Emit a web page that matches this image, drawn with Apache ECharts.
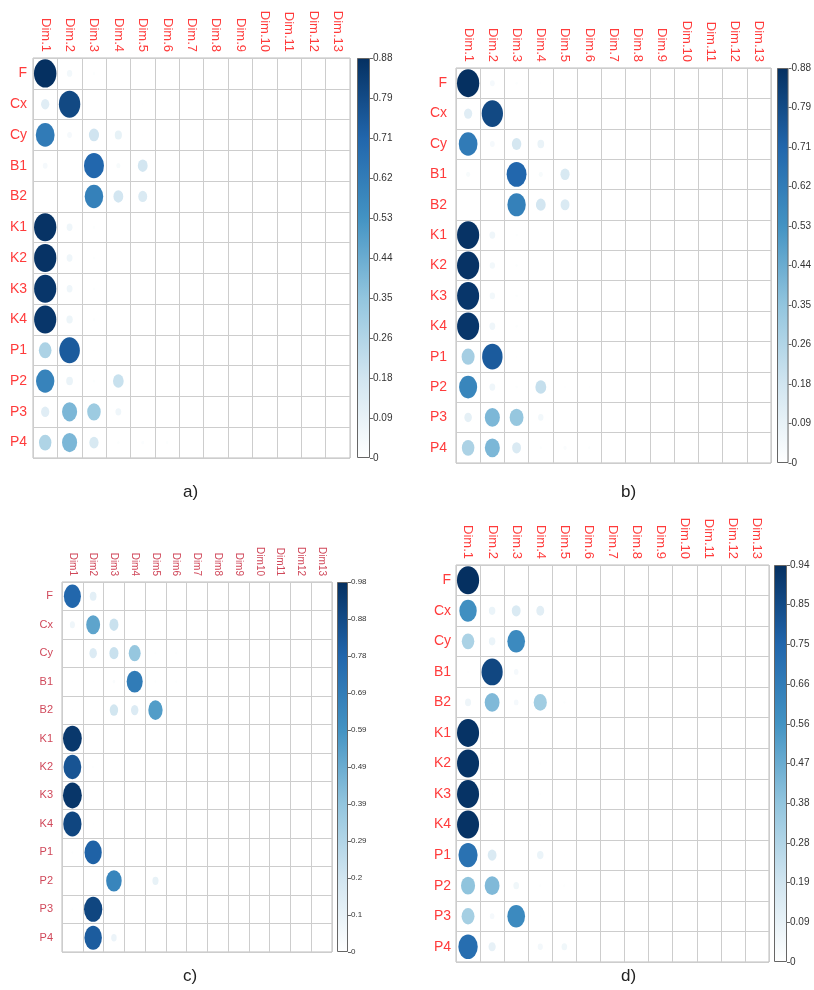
<!DOCTYPE html>
<html><head><meta charset="utf-8">
<style>html,body{margin:0;padding:0;background:#fff}#c{width:814px;height:990px}</style>
<script src="https://cdn.jsdelivr.net/npm/echarts@6.0.0/dist/echarts.min.js"></script>
</head><body><div id="c"></div>
<script>
const rowLabels = ['F','Cx','Cy','B1','B2','K1','K2','K3','K4','P1','P2','P3','P4'];
const dimLabels = ['Dim.1','Dim.2','Dim.3','Dim.4','Dim.5','Dim.6','Dim.7','Dim.8','Dim.9','Dim.10','Dim.11','Dim.12','Dim.13'];
const dimLabelsC = ['Dim1','Dim2','Dim3','Dim4','Dim5','Dim6','Dim7','Dim8','Dim9','Dim10','Dim11','Dim12','Dim13'];

const valuesA = [
  [0.88,0.05,0.01,0.004,0,0,0,0,0,0,0,0,0],
  [0.12,0.80,0,0,0.005,0.003,0,0,0,0,0,0,0],
  [0.62,0.04,0.18,0.09,0.003,0.002,0,0,0,0,0,0,0],
  [0.04,0,0.70,0.03,0.17,0,0,0,0,0,0,0,0],
  [0,0.002,0.60,0.17,0.14,0,0,0,0,0,0,0,0],
  [0.87,0.06,0.01,0,0,0,0,0,0,0,0,0,0],
  [0.87,0.06,0.01,0.002,0,0,0,0,0,0,0,0,0],
  [0.86,0.06,0.01,0,0,0,0,0,0,0,0,0,0],
  [0.86,0.07,0.01,0,0,0,0,0,0,0,0,0,0],
  [0.28,0.74,0.005,0,0,0,0,0,0,0,0,0,0],
  [0.59,0.08,0.01,0.20,0.005,0.004,0,0,0,0,0,0,0],
  [0.12,0.40,0.32,0.06,0,0,0.002,0,0,0,0,0,0],
  [0.27,0.40,0.15,0.01,0.015,0.01,0,0,0,0,0,0,0]
];
const valuesB = [
  [0.88,0.04,0.01,0.004,0,0,0,0,0,0,0,0,0],
  [0.12,0.80,0,0,0.005,0.004,0,0,0,0,0,0,0],
  [0.62,0.04,0.16,0.08,0.003,0.002,0,0,0,0,0,0,0],
  [0.03,0,0.70,0.03,0.15,0,0,0,0,0,0,0,0],
  [0,0,0.60,0.17,0.14,0,0,0,0,0,0,0,0],
  [0.87,0.06,0.01,0,0,0,0,0,0,0,0,0,0],
  [0.87,0.05,0.01,0.002,0,0,0,0,0,0,0,0,0],
  [0.86,0.05,0.01,0,0,0,0,0,0,0,0,0,0],
  [0.86,0.06,0.01,0,0,0,0,0,0,0,0,0,0],
  [0.30,0.74,0.005,0,0,0,0,0,0,0,0,0,0],
  [0.58,0.06,0.01,0.21,0.005,0.004,0,0,0,0,0,0,0],
  [0.10,0.40,0.34,0.05,0,0,0.002,0,0,0,0,0,0],
  [0.28,0.40,0.14,0.01,0.02,0.01,0,0,0,0,0,0,0]
];
const valuesC = [
  [0.78,0.12,0,0,0,0,0,0,0,0,0,0,0],
  [0.07,0.52,0.22,0,0,0,0.003,0,0,0,0,0,0],
  [0,0.15,0.22,0.38,0.01,0.01,0,0,0,0,0,0,0],
  [0.005,0.005,0.02,0.69,0.01,0.01,0,0,0,0,0,0,0],
  [0.005,0,0.19,0.15,0.55,0.003,0,0,0,0,0,0,0],
  [0.95,0,0,0,0,0,0,0,0,0,0,0,0],
  [0.85,0.01,0,0,0,0,0,0,0,0,0,0,0],
  [0.96,0,0,0,0,0,0,0,0,0,0,0,0],
  [0.90,0.005,0,0,0,0,0,0,0,0,0,0,0],
  [0.01,0.80,0,0.005,0.005,0,0,0,0,0,0,0,0],
  [0.005,0,0.65,0.005,0.10,0.005,0,0,0,0,0,0,0],
  [0.01,0.90,0.003,0,0,0,0,0,0,0,0,0,0],
  [0,0.82,0.08,0,0,0,0,0,0,0,0,0,0]
];
const valuesD = [
  [0.94,0.005,0,0.005,0,0,0,0,0,0,0,0,0],
  [0.58,0.08,0.15,0.12,0,0,0,0,0,0,0,0,0],
  [0.30,0.08,0.60,0.005,0.005,0,0,0,0,0,0,0,0],
  [0.005,0.86,0.04,0,0,0,0.005,0,0,0,0,0,0],
  [0.07,0.42,0.04,0.33,0.01,0.003,0,0,0,0,0,0,0],
  [0.93,0.005,0,0.005,0,0,0,0,0,0,0,0,0],
  [0.93,0.005,0,0.008,0,0,0,0,0,0,0,0,0],
  [0.93,0.005,0,0.008,0,0,0,0,0,0,0,0,0],
  [0.93,0.005,0,0.006,0,0,0,0,0,0,0,0,0],
  [0.70,0.15,0,0.08,0.003,0,0,0,0,0,0,0,0],
  [0.38,0.42,0.06,0.01,0.01,0.003,0,0,0,0,0,0,0],
  [0.32,0.04,0.60,0.005,0,0,0,0,0,0,0,0,0],
  [0.72,0.10,0,0.05,0.06,0,0,0,0,0,0,0,0]
];

const maxA = 0.88, maxB = 0.88, maxC = 0.98, maxD = 0.94;
const cbarTicksA = ['0','0.09','0.18','0.26','0.35','0.44','0.53','0.62','0.71','0.79','0.88'];
const cbarTicksB = ['0','0.09','0.18','0.26','0.35','0.44','0.53','0.62','0.71','0.79','0.88'];
const cbarTicksC = ['0','0.1','0.2','0.29','0.39','0.49','0.59','0.69','0.78','0.88','0.98'];
const cbarTicksD = ['0','0.09','0.19','0.28','0.38','0.47','0.56','0.66','0.75','0.85','0.94'];
const panelTags = ['a)','b)','c)','d)'];

const blues = ['#ffffff','#d1e5f0','#92c5de','#4393c3','#2166ac','#053061'];

const panels = [
  {values: valuesA, max: maxA, dims: dimLabels, ticks: cbarTicksA, tag: panelTags[0],
   grid:{left:33,top:58,width:317,height:400}, cbar:{left:357,top:58,width:13,height:400},
   tagPos:[183,479], dimFont:13, rowFont:14, cbFont:10, labelColor:'#ff3b3b', rowMargin:6, dimMargin:6},
  {values: valuesB, max: maxB, dims: dimLabels, ticks: cbarTicksB, tag: panelTags[1],
   grid:{left:456,top:68,width:315,height:395}, cbar:{left:777,top:68,width:14,height:395},
   tagPos:[621,479], dimFont:13, rowFont:14, cbFont:10, labelColor:'#ff3b3b', rowMargin:9, dimMargin:6},
  {values: valuesC, max: maxC, dims: dimLabelsC, ticks: cbarTicksC, tag: panelTags[2],
   grid:{left:62,top:582,width:270,height:370}, cbar:{left:337,top:582,width:11,height:370},
   tagPos:[183,963], dimFont:10, rowFont:11, cbFont:8, labelColor:'#d0485a', rowMargin:9, dimMargin:6},
  {values: valuesD, max: maxD, dims: dimLabels, ticks: cbarTicksD, tag: panelTags[3],
   grid:{left:456,top:565,width:313,height:397}, cbar:{left:774,top:565,width:13,height:397},
   tagPos:[621,963], dimFont:13, rowFont:14, cbFont:10, labelColor:'#ff3b3b', rowMargin:5, dimMargin:6}
];

const grids = [], xAxes = [], yAxes = [], series = [], visualMaps = [], titles = [];
const gridLine = {show:true, interval:0, lineStyle:{color:'#cdcdcd', width:1}};

panels.forEach((p, i) => {
  const gi = grids.length;
  grids.push(Object.assign({show:true, borderColor:'#bdbdbd', borderWidth:1}, p.grid));
  grids.push(Object.assign({show:false}, p.cbar));
  xAxes.push({gridIndex:gi, type:'category', data:p.dims, position:'top', boundaryGap:true,
    axisLine:{show:false}, axisTick:{show:false}, splitLine:gridLine,
    axisLabel:{rotate:90, interval:0, color:p.labelColor, fontSize:p.dimFont, fontFamily:'Liberation Sans, Arial, sans-serif', margin:p.dimMargin}});
  yAxes.push({gridIndex:gi, type:'category', data:rowLabels, inverse:true, boundaryGap:true,
    axisLine:{show:false}, axisTick:{show:false}, splitLine:gridLine,
    axisLabel:{interval:0, color:p.labelColor, fontSize:p.rowFont, fontFamily:'Liberation Sans, Arial, sans-serif', margin:p.rowMargin}});
  xAxes.push({gridIndex:gi+1, type:'category', data:[''], show:false});
  yAxes.push({gridIndex:gi+1, type:'value', min:0, max:10, interval:1, position:'right',
    axisLine:{show:false}, splitLine:{show:false},
    axisTick:{show:true, length:3, lineStyle:{color:'#666'}},
    axisLabel:{margin:3, fontSize:p.cbFont, color:'#333', fontFamily:'Liberation Sans Narrow, Liberation Sans, Arial, sans-serif',
      formatter: v => p.ticks[Math.round(v)]}});

  const cw = p.grid.width / 13, ch = p.grid.height / 13, mx = p.max;
  const pts = [];
  p.values.forEach((row, r) => row.forEach((v, c) => { if (v > 0) pts.push([c, r, v]); }));
  const si = series.length;
  series.push({type:'scatter', xAxisIndex:gi, yAxisIndex:gi, data:pts, symbol:'circle',
    symbolSize: d => { const f = Math.sqrt(d[2] / mx) * 0.92; return [cw * f, ch * f]; },
    itemStyle:{opacity:1}, silent:true, animation:false});
  visualMaps.push({type:'continuous', show:false, seriesIndex:si, dimension:2, min:0, max:mx, inRange:{color:blues}});
  series.push({type:'bar', xAxisIndex:gi+1, yAxisIndex:gi+1, data:[10], barWidth:'100%', silent:true, animation:false,
    itemStyle:{borderColor:'#666', borderWidth:1,
      color:{type:'linear', x:0, y:1, x2:0, y2:0,
        colorStops: blues.map((col, k) => ({offset:k / (blues.length - 1), color:col}))}}});
  titles.push({text:p.tag, left:p.tagPos[0] - 5, top:p.tagPos[1],
    textStyle:{fontSize:17, fontWeight:'normal', color:'#222', fontFamily:'Liberation Sans, Arial, sans-serif'}});
});

const chart = echarts.init(document.getElementById('c'), null, {renderer:'canvas'});
chart.setOption({animation:false, backgroundColor:'#fff', title:titles, grid:grids, xAxis:xAxes, yAxis:yAxes, series:series, visualMap:visualMaps});
</script></body></html>
